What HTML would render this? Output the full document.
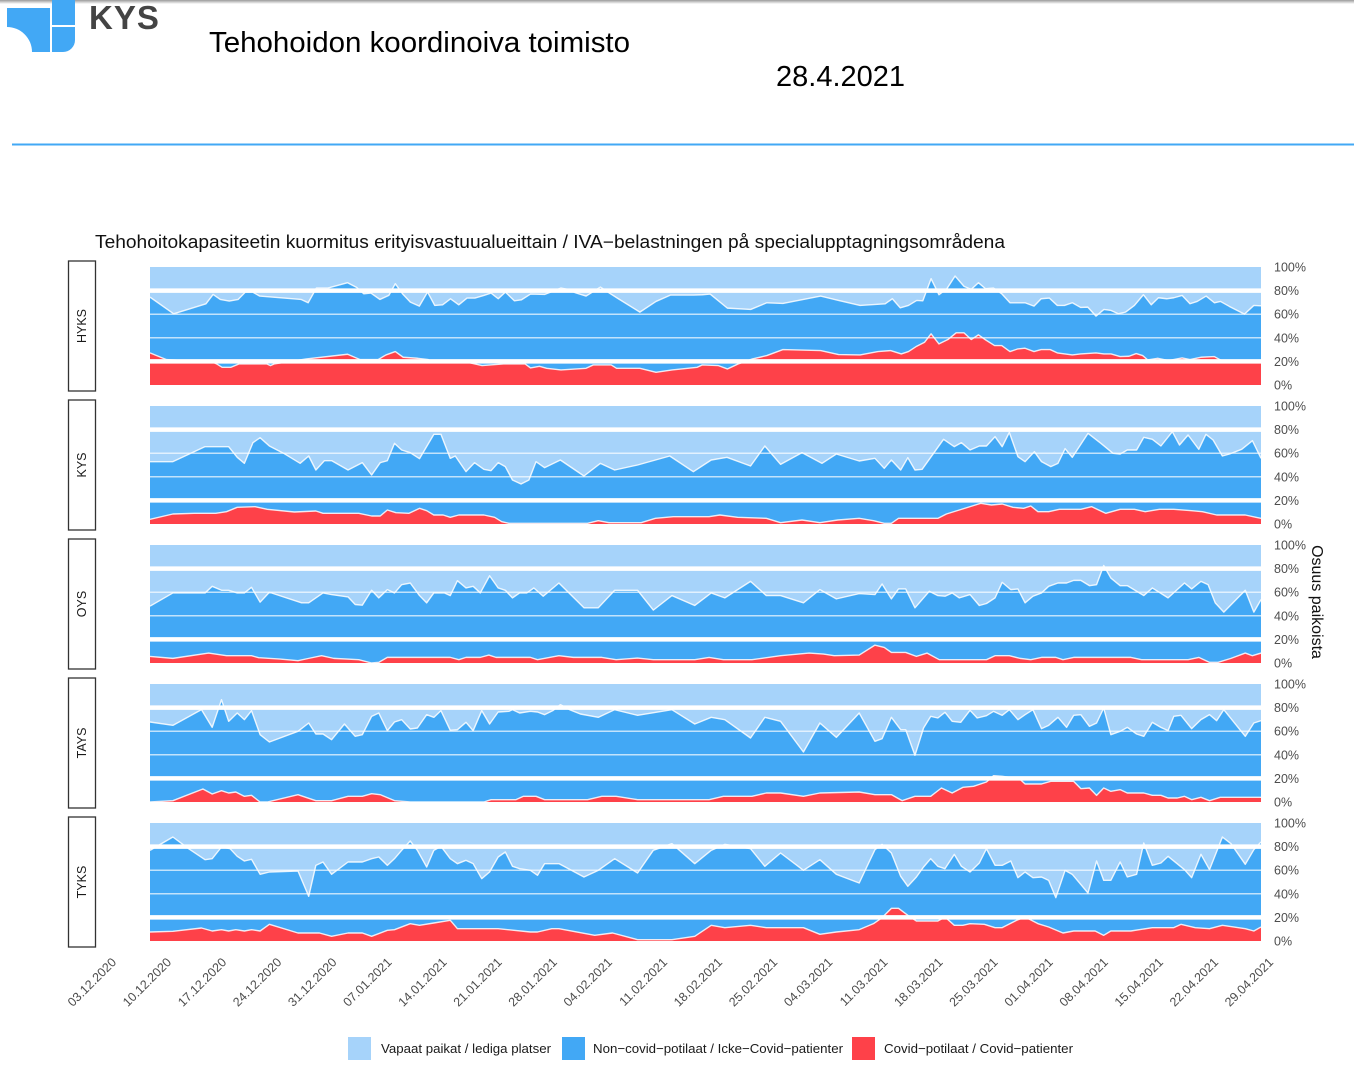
<!DOCTYPE html>
<html><head><meta charset="utf-8"><style>
html,body{margin:0;padding:0;background:#fff;overflow:hidden}
svg{display:block}
text{font-family:"Liberation Sans",Arial,sans-serif}
</style></head><body>
<svg width="1354" height="1080" viewBox="0 0 1354 1080" xmlns="http://www.w3.org/2000/svg">
<defs>
<linearGradient id="sh" x1="0" y1="0" x2="0" y2="1"><stop offset="0" stop-color="#9a9a9a"/><stop offset="1" stop-color="#ffffff"/></linearGradient>
</defs>
<rect x="0" y="0" width="1354" height="4" fill="url(#sh)"/>
<!-- logo -->
<path d="M7,8 H50 V52 H32 A25,25 0 0 0 7,27 Z" fill="#42a8f5"/>
<rect x="52" y="0" width="23" height="25" fill="#42a8f5"/>
<path d="M52,27 H75 V40 A12,12 0 0 1 63,52 H52 Z" fill="#42a8f5"/>
<text x="89" y="29" font-size="33" font-weight="bold" fill="#444" letter-spacing="1">KYS</text>
<text x="209" y="52" font-size="29" fill="#000" textLength="421" lengthAdjust="spacingAndGlyphs">Tehohoidon koordinoiva toimisto</text>
<text x="776" y="86" font-size="29" fill="#000">28.4.2021</text>
<rect x="12" y="143.5" width="1342" height="2" fill="#42a8f5"/>

<text x="95" y="248" font-size="18" fill="#111" textLength="910" lengthAdjust="spacingAndGlyphs">Tehohoitokapasiteetin kuormitus erityisvastuualueittain / IVA−belastningen på specialupptagningsområdena</text>

<!-- strip boxes -->
<g fill="#fff" stroke="#333" stroke-width="1.3">
<rect x="68.5" y="261" width="27" height="130"/>
<rect x="68.5" y="400" width="27" height="130"/>
<rect x="68.5" y="539" width="27" height="130"/>
<rect x="68.5" y="678" width="27" height="130"/>
<rect x="68.5" y="817" width="27" height="130"/>
</g>
<g font-size="12.5" fill="#1a1a1a" text-anchor="middle">
<text transform="translate(86,326) rotate(-90)">HYKS</text>
<text transform="translate(86,465) rotate(-90)">KYS</text>
<text transform="translate(86,604) rotate(-90)">OYS</text>
<text transform="translate(86,743) rotate(-90)">TAYS</text>
<text transform="translate(86,882) rotate(-90)">TYKS</text>
</g>

<!-- panel backgrounds -->
<g fill="#a6d3fa">
<rect x="150" y="267" width="1111" height="118"/>
<rect x="150" y="406" width="1111" height="118"/>
<rect x="150" y="545" width="1111" height="118"/>
<rect x="150" y="684" width="1111" height="118"/>
<rect x="150" y="823" width="1111" height="118"/>
</g>

<!-- HYKS -->
<svg x="150" y="267" width="1111" height="118" viewBox="14 15 3098 353" preserveAspectRatio="none">
<polygon fill="#42a8f5" points="14,105 80,155 170,125 190,97 210,112 235,117 260,112 280,90 300,90 320,102 435,112 455,122 478,78 510,78 565,62 590,76 610,95 630,93 655,112 680,100 698,65 718,95 740,120 765,132 788,90 808,130 830,128 852,110 875,128 898,108 920,108 945,100 965,93 985,110 1005,90 1030,116 1050,113 1075,96 1115,97 1160,78 1180,82 1200,92 1230,102 1270,75 1295,93 1320,110 1380,150 1425,118 1465,99 1530,99 1554,98 1576,96 1624,138 1689,142 1734,122 1779,124 1884,102 1934,115 1994,130 2064,125 2084,110 2106,137 2129,130 2152,115 2169,116 2192,50 2214,98 2236,80 2259,42 2284,73 2304,82 2324,62 2344,80 2366,78 2389,95 2412,122 2454,122 2479,132 2499,110 2522,108 2544,130 2564,130 2586,122 2609,136 2629,135 2652,162 2674,142 2694,145 2714,155 2734,150 2759,130 2784,98 2806,128 2826,107 2849,110 2869,107 2892,100 2914,125 2934,118 2959,102 2982,122 2999,118 3024,133 3066,156 3092,130 3112,131 3112,400 14,400"/>
<polygon fill="#fe4149" points="14,272 60,292 190,300 200,305 215,315 240,315 262,305 340,305 350,310 360,305 450,290 565,276 600,292 650,292 672,278 698,268 720,285 760,288 790,292 800,300 900,300 940,310 1000,305 1060,305 1075,317 1100,312 1120,318 1160,323 1230,318 1250,308 1300,308 1315,318 1380,318 1425,330 1470,323 1540,315 1554,308 1599,310 1624,320 1654,305 1694,290 1734,280 1779,262 1884,265 1934,277 1994,278 2044,268 2079,265 2109,275 2129,268 2152,252 2174,240 2192,215 2214,245 2239,232 2262,212 2284,212 2304,232 2324,218 2344,233 2369,250 2389,250 2412,268 2434,260 2454,258 2479,268 2499,262 2524,262 2544,272 2586,278 2609,275 2652,272 2674,275 2694,275 2719,283 2744,282 2764,274 2782,280 2796,293 2824,288 2854,295 2892,287 2914,292 2944,285 2982,283 2999,293 3024,300 3112,300 3112,400 14,400"/>
<g fill="none" stroke="#fff" stroke-opacity="0.85" stroke-width="1.4" stroke-linejoin="round">
<polyline vector-effect="non-scaling-stroke" points="14,105 80,155 170,125 190,97 210,112 235,117 260,112 280,90 300,90 320,102 435,112 455,122 478,78 510,78 565,62 590,76 610,95 630,93 655,112 680,100 698,65 718,95 740,120 765,132 788,90 808,130 830,128 852,110 875,128 898,108 920,108 945,100 965,93 985,110 1005,90 1030,116 1050,113 1075,96 1115,97 1160,78 1180,82 1200,92 1230,102 1270,75 1295,93 1320,110 1380,150 1425,118 1465,99 1530,99 1554,98 1576,96 1624,138 1689,142 1734,122 1779,124 1884,102 1934,115 1994,130 2064,125 2084,110 2106,137 2129,130 2152,115 2169,116 2192,50 2214,98 2236,80 2259,42 2284,73 2304,82 2324,62 2344,80 2366,78 2389,95 2412,122 2454,122 2479,132 2499,110 2522,108 2544,130 2564,130 2586,122 2609,136 2629,135 2652,162 2674,142 2694,145 2714,155 2734,150 2759,130 2784,98 2806,128 2826,107 2849,110 2869,107 2892,100 2914,125 2934,118 2959,102 2982,122 2999,118 3024,133 3066,156 3092,130 3112,131"/>
<polyline vector-effect="non-scaling-stroke" points="14,272 60,292 190,300 200,305 215,315 240,315 262,305 340,305 350,310 360,305 450,290 565,276 600,292 650,292 672,278 698,268 720,285 760,288 790,292 800,300 900,300 940,310 1000,305 1060,305 1075,317 1100,312 1120,318 1160,323 1230,318 1250,308 1300,308 1315,318 1380,318 1425,330 1470,323 1540,315 1554,308 1599,310 1624,320 1654,305 1694,290 1734,280 1779,262 1884,265 1934,277 1994,278 2044,268 2079,265 2109,275 2129,268 2152,252 2174,240 2192,215 2214,245 2239,232 2262,212 2284,212 2304,232 2324,218 2344,233 2369,250 2389,250 2412,268 2434,260 2454,258 2479,268 2499,262 2524,262 2544,272 2586,278 2609,275 2652,272 2674,275 2694,275 2719,283 2744,282 2764,274 2782,280 2796,293 2824,288 2854,295 2892,287 2914,292 2944,285 2982,283 2999,293 3024,300 3112,300"/>
</g>
</svg>

<!-- KYS -->
<svg x="150" y="406" width="1111" height="118" viewBox="8 18 1554 354" preserveAspectRatio="none">
<polygon fill="#42a8f5" points="8,185 40,185 85,140 118,140 130,172 140,190 152,128 162,113 175,138 195,160 218,190 230,168 240,210 252,182 262,182 285,210 305,188 318,225 330,188 340,182 350,130 360,150 372,158 385,176 405,103 415,103 428,175 435,168 450,215 462,188 475,208 485,212 495,188 505,200 515,240 527,252 538,240 548,185 560,203 582,180 615,228 638,190 658,210 690,195 735,168 768,215 793,180 815,172 848,198 868,138 890,193 920,158 948,190 968,162 1000,183 1022,175 1035,205 1045,180 1058,210 1068,173 1078,210 1088,208 1118,118 1133,140 1143,128 1155,150 1168,138 1178,138 1190,110 1200,140 1210,97 1222,170 1232,185 1245,155 1255,185 1268,200 1278,190 1288,146 1298,172 1320,100 1338,130 1355,160 1365,162 1375,150 1388,150 1398,112 1410,118 1422,138 1438,95 1448,135 1460,105 1475,148 1485,103 1495,120 1508,168 1518,162 1535,148 1550,122 1562,175 1562,400 8,400"/>
<polygon fill="#fe4149" points="8,358 40,342 70,340 100,340 115,335 130,322 155,320 172,328 210,336 240,333 250,340 300,340 318,348 330,348 340,330 352,338 370,340 385,325 395,332 405,345 418,345 428,352 440,345 475,345 490,352 500,365 510,370 620,370 635,362 650,368 695,368 715,355 740,350 790,350 805,345 830,352 870,355 890,368 920,360 945,368 970,360 1000,355 1020,362 1035,370 1045,370 1055,355 1110,355 1122,342 1140,330 1158,318 1170,310 1185,315 1200,312 1215,322 1230,325 1240,318 1250,335 1265,335 1280,328 1310,328 1325,320 1345,340 1365,328 1385,328 1400,335 1420,328 1440,328 1465,332 1480,335 1500,345 1540,345 1555,352 1562,355 1562,400 8,400"/>
<g fill="none" stroke="#fff" stroke-opacity="0.85" stroke-width="1.4" stroke-linejoin="round">
<polyline vector-effect="non-scaling-stroke" points="8,185 40,185 85,140 118,140 130,172 140,190 152,128 162,113 175,138 195,160 218,190 230,168 240,210 252,182 262,182 285,210 305,188 318,225 330,188 340,182 350,130 360,150 372,158 385,176 405,103 415,103 428,175 435,168 450,215 462,188 475,208 485,212 495,188 505,200 515,240 527,252 538,240 548,185 560,203 582,180 615,228 638,190 658,210 690,195 735,168 768,215 793,180 815,172 848,198 868,138 890,193 920,158 948,190 968,162 1000,183 1022,175 1035,205 1045,180 1058,210 1068,173 1078,210 1088,208 1118,118 1133,140 1143,128 1155,150 1168,138 1178,138 1190,110 1200,140 1210,97 1222,170 1232,185 1245,155 1255,185 1268,200 1278,190 1288,146 1298,172 1320,100 1338,130 1355,160 1365,162 1375,150 1388,150 1398,112 1410,118 1422,138 1438,95 1448,135 1460,105 1475,148 1485,103 1495,120 1508,168 1518,162 1535,148 1550,122 1562,175"/>
<polyline vector-effect="non-scaling-stroke" points="8,358 40,342 70,340 100,340 115,335 130,322 155,320 172,328 210,336 240,333 250,340 300,340 318,348 330,348 340,330 352,338 370,340 385,325 395,332 405,345 418,345 428,352 440,345 475,345 490,352 500,365 510,370 620,370 635,362 650,368 695,368 715,355 740,350 790,350 805,345 830,352 870,355 890,368 920,360 945,368 970,360 1000,355 1020,362 1035,370 1045,370 1055,355 1110,355 1122,342 1140,330 1158,318 1170,310 1185,315 1200,312 1215,322 1230,325 1240,318 1250,335 1265,335 1280,328 1310,328 1325,320 1345,340 1365,328 1385,328 1400,335 1420,328 1440,328 1465,332 1480,335 1500,345 1540,345 1555,352 1562,355"/>
</g>
</svg>

<!-- OYS -->
<svg x="150" y="545" width="1111" height="118" viewBox="8 15 1554 357" preserveAspectRatio="none">
<polygon fill="#42a8f5" points="8,200 40,160 85,160 95,140 108,152 118,152 130,160 140,160 150,143 162,188 175,158 220,190 230,190 250,160 262,165 285,172 295,195 305,197 318,152 328,175 340,150 350,160 360,135 372,130 385,168 395,190 405,160 420,160 428,168 438,123 450,145 460,140 470,160 483,108 495,145 505,152 515,175 525,160 535,160 545,145 558,170 580,130 615,205 635,205 658,152 690,152 712,212 738,168 770,198 793,160 812,175 848,125 870,168 890,168 922,190 945,150 968,178 1000,162 1022,165 1032,133 1045,178 1055,148 1065,148 1078,205 1098,155 1110,168 1120,170 1130,160 1140,175 1155,165 1168,198 1178,192 1190,175 1200,128 1212,150 1222,148 1232,190 1243,170 1255,160 1265,140 1278,130 1290,130 1300,122 1310,122 1322,138 1332,135 1342,77 1352,115 1365,138 1375,138 1398,168 1410,145 1432,175 1455,130 1465,148 1478,125 1488,135 1498,190 1510,218 1540,152 1552,218 1562,180 1562,400 8,400"/>
<polygon fill="#fe4149" points="8,352 40,358 90,342 115,350 150,350 160,356 190,360 215,365 230,358 248,350 265,358 300,362 318,372 328,370 340,355 428,355 440,362 450,355 470,355 482,348 492,355 540,355 550,362 580,350 600,355 640,355 660,362 690,357 712,362 770,362 790,355 810,362 850,362 890,350 930,342 950,345 965,350 1000,348 1022,318 1035,325 1045,340 1065,340 1080,352 1095,342 1112,362 1178,362 1190,350 1210,350 1225,358 1240,362 1255,355 1275,355 1285,362 1300,355 1380,355 1395,362 1460,362 1475,355 1490,370 1502,370 1520,358 1540,342 1550,350 1562,342 1562,400 8,400"/>
<g fill="none" stroke="#fff" stroke-opacity="0.85" stroke-width="1.4" stroke-linejoin="round">
<polyline vector-effect="non-scaling-stroke" points="8,200 40,160 85,160 95,140 108,152 118,152 130,160 140,160 150,143 162,188 175,158 220,190 230,190 250,160 262,165 285,172 295,195 305,197 318,152 328,175 340,150 350,160 360,135 372,130 385,168 395,190 405,160 420,160 428,168 438,123 450,145 460,140 470,160 483,108 495,145 505,152 515,175 525,160 535,160 545,145 558,170 580,130 615,205 635,205 658,152 690,152 712,212 738,168 770,198 793,160 812,175 848,125 870,168 890,168 922,190 945,150 968,178 1000,162 1022,165 1032,133 1045,178 1055,148 1065,148 1078,205 1098,155 1110,168 1120,170 1130,160 1140,175 1155,165 1168,198 1178,192 1190,175 1200,128 1212,150 1222,148 1232,190 1243,170 1255,160 1265,140 1278,130 1290,130 1300,122 1310,122 1322,138 1332,135 1342,77 1352,115 1365,138 1375,138 1398,168 1410,145 1432,175 1455,130 1465,148 1478,125 1488,135 1498,190 1510,218 1540,152 1552,218 1562,180"/>
<polyline vector-effect="non-scaling-stroke" points="8,352 40,358 90,342 115,350 150,350 160,356 190,360 215,365 230,358 248,350 265,358 300,362 318,372 328,370 340,355 428,355 440,362 450,355 470,355 482,348 492,355 540,355 550,362 580,350 600,355 640,355 660,362 690,357 712,362 770,362 790,355 810,362 850,362 890,350 930,342 950,345 965,350 1000,348 1022,318 1035,325 1045,340 1065,340 1080,352 1095,342 1112,362 1178,362 1190,350 1210,350 1225,358 1240,362 1255,355 1275,355 1285,362 1300,355 1380,355 1395,362 1460,362 1475,355 1490,370 1502,370 1520,358 1540,342 1550,350 1562,342"/>
</g>
</svg>

<!-- TAYS -->
<svg x="150" y="684" width="1111" height="118" viewBox="8 18 1554 354" preserveAspectRatio="none">
<polygon fill="#42a8f5" points="8,132 40,142 80,95 95,148 108,65 118,130 130,105 140,125 150,98 162,170 175,192 215,160 230,135 240,168 250,168 262,185 280,138 295,175 305,170 318,115 328,105 340,158 350,132 360,125 372,153 382,150 395,110 405,118 415,98 428,157 438,155 450,133 460,158 472,98 483,138 495,102 510,100 515,95 525,105 540,100 550,102 560,110 572,97 582,80 595,95 610,108 635,118 658,95 690,112 738,95 770,138 793,118 812,125 848,180 868,118 890,130 922,222 945,135 968,178 1000,105 1022,190 1032,182 1045,118 1058,155 1065,155 1078,232 1090,150 1100,115 1110,120 1120,103 1130,130 1142,133 1155,97 1165,120 1178,113 1188,100 1200,112 1210,95 1222,125 1232,110 1243,95 1255,152 1265,142 1278,118 1290,148 1300,112 1310,110 1322,145 1332,135 1342,90 1352,170 1365,160 1375,148 1388,168 1398,175 1410,133 1422,148 1432,158 1440,115 1450,112 1465,152 1478,125 1490,110 1500,128 1510,95 1540,175 1552,135 1562,128 1562,400 8,400"/>
<polygon fill="#fe4149" points="8,372 40,368 82,333 95,348 108,338 118,345 128,342 140,355 150,352 162,372 172,372 215,350 240,368 262,368 285,355 305,355 318,347 330,350 350,368 372,372 475,372 485,365 520,365 530,355 548,355 560,365 620,365 640,355 660,355 690,365 790,365 810,355 850,355 870,345 890,345 922,355 945,345 1000,342 1022,350 1045,350 1060,368 1078,355 1100,355 1115,330 1130,345 1145,328 1160,325 1178,312 1188,293 1200,295 1210,298 1222,298 1232,318 1255,318 1268,310 1300,310 1310,332 1322,330 1332,352 1342,330 1352,340 1365,335 1375,345 1398,345 1410,352 1422,352 1432,360 1445,360 1455,355 1465,365 1478,358 1490,368 1505,358 1562,358 1562,400 8,400"/>
<g fill="none" stroke="#fff" stroke-opacity="0.85" stroke-width="1.4" stroke-linejoin="round">
<polyline vector-effect="non-scaling-stroke" points="8,132 40,142 80,95 95,148 108,65 118,130 130,105 140,125 150,98 162,170 175,192 215,160 230,135 240,168 250,168 262,185 280,138 295,175 305,170 318,115 328,105 340,158 350,132 360,125 372,153 382,150 395,110 405,118 415,98 428,157 438,155 450,133 460,158 472,98 483,138 495,102 510,100 515,95 525,105 540,100 550,102 560,110 572,97 582,80 595,95 610,108 635,118 658,95 690,112 738,95 770,138 793,118 812,125 848,180 868,118 890,130 922,222 945,135 968,178 1000,105 1022,190 1032,182 1045,118 1058,155 1065,155 1078,232 1090,150 1100,115 1110,120 1120,103 1130,130 1142,133 1155,97 1165,120 1178,113 1188,100 1200,112 1210,95 1222,125 1232,110 1243,95 1255,152 1265,142 1278,118 1290,148 1300,112 1310,110 1322,145 1332,135 1342,90 1352,170 1365,160 1375,148 1388,168 1398,175 1410,133 1422,148 1432,158 1440,115 1450,112 1465,152 1478,125 1490,110 1500,128 1510,95 1540,175 1552,135 1562,128"/>
<polyline vector-effect="non-scaling-stroke" points="8,372 40,368 82,333 95,348 108,338 118,345 128,342 140,355 150,352 162,372 172,372 215,350 240,368 262,368 285,355 305,355 318,347 330,350 350,368 372,372 475,372 485,365 520,365 530,355 548,355 560,365 620,365 640,355 660,355 690,365 790,365 810,355 850,355 870,345 890,345 922,355 945,345 1000,342 1022,350 1045,350 1060,368 1078,355 1100,355 1115,330 1130,345 1145,328 1160,325 1178,312 1188,293 1200,295 1210,298 1222,298 1232,318 1255,318 1268,310 1300,310 1310,332 1322,330 1332,352 1342,330 1352,340 1365,335 1375,345 1398,345 1410,352 1422,352 1432,360 1445,360 1455,355 1465,365 1478,358 1490,368 1505,358 1562,358"/>
</g>
</svg>

<!-- TYKS -->
<svg x="150" y="823" width="1111" height="118" viewBox="8 18 1554 354" preserveAspectRatio="none">
<polygon fill="#42a8f5" points="8,100 40,60 62,95 85,128 95,125 108,90 120,95 130,118 140,132 150,127 162,172 175,165 215,162 230,238 240,145 250,135 262,172 285,135 305,135 318,125 328,120 340,145 350,125 360,100 372,72 382,100 395,150 405,100 415,88 428,125 438,140 450,130 460,140 472,185 483,165 495,120 505,105 515,148 525,155 540,160 550,175 560,140 580,140 615,180 635,160 658,125 690,168 712,100 738,80 770,140 793,100 812,82 848,95 868,148 890,108 922,160 945,128 968,172 1000,198 1022,98 1032,82 1045,108 1058,178 1068,208 1080,180 1090,150 1100,125 1110,148 1120,155 1133,112 1143,148 1155,165 1168,138 1178,95 1190,145 1200,145 1212,132 1222,182 1232,165 1243,182 1255,180 1265,190 1275,242 1288,160 1298,172 1320,228 1332,132 1342,190 1352,190 1365,135 1375,180 1388,172 1398,78 1410,145 1422,138 1432,118 1455,158 1465,182 1478,112 1490,158 1508,60 1520,80 1540,142 1552,98 1562,75 1562,400 8,400"/>
<polygon fill="#fe4149" points="8,345 40,343 80,333 95,342 108,338 118,342 128,338 140,342 150,338 162,342 175,322 215,348 245,348 262,358 285,348 305,348 318,358 340,340 350,338 372,320 385,325 405,318 428,310 438,335 470,335 495,335 540,345 550,345 570,335 580,335 630,355 655,348 690,368 738,368 770,358 793,325 812,332 848,325 870,332 922,332 945,352 968,345 1000,338 1020,320 1032,302 1045,274 1055,274 1068,295 1080,312 1110,312 1120,300 1133,325 1145,325 1155,320 1175,322 1190,332 1200,332 1220,310 1232,300 1250,320 1265,330 1285,348 1300,342 1330,342 1342,355 1352,342 1380,342 1410,332 1440,332 1450,322 1470,332 1490,335 1508,325 1540,335 1552,342 1562,330 1562,400 8,400"/>
<g fill="none" stroke="#fff" stroke-opacity="0.85" stroke-width="1.4" stroke-linejoin="round">
<polyline vector-effect="non-scaling-stroke" points="8,100 40,60 62,95 85,128 95,125 108,90 120,95 130,118 140,132 150,127 162,172 175,165 215,162 230,238 240,145 250,135 262,172 285,135 305,135 318,125 328,120 340,145 350,125 360,100 372,72 382,100 395,150 405,100 415,88 428,125 438,140 450,130 460,140 472,185 483,165 495,120 505,105 515,148 525,155 540,160 550,175 560,140 580,140 615,180 635,160 658,125 690,168 712,100 738,80 770,140 793,100 812,82 848,95 868,148 890,108 922,160 945,128 968,172 1000,198 1022,98 1032,82 1045,108 1058,178 1068,208 1080,180 1090,150 1100,125 1110,148 1120,155 1133,112 1143,148 1155,165 1168,138 1178,95 1190,145 1200,145 1212,132 1222,182 1232,165 1243,182 1255,180 1265,190 1275,242 1288,160 1298,172 1320,228 1332,132 1342,190 1352,190 1365,135 1375,180 1388,172 1398,78 1410,145 1422,138 1432,118 1455,158 1465,182 1478,112 1490,158 1508,60 1520,80 1540,142 1552,98 1562,75"/>
<polyline vector-effect="non-scaling-stroke" points="8,345 40,343 80,333 95,342 108,338 118,342 128,338 140,342 150,338 162,342 175,322 215,348 245,348 262,358 285,348 305,348 318,358 340,340 350,338 372,320 385,325 405,318 428,310 438,335 470,335 495,335 540,345 550,345 570,335 580,335 630,355 655,348 690,368 738,368 770,358 793,325 812,332 848,325 870,332 922,332 945,352 968,345 1000,338 1020,320 1032,302 1045,274 1055,274 1068,295 1080,312 1110,312 1120,300 1133,325 1145,325 1155,320 1175,322 1190,332 1200,332 1220,310 1232,300 1250,320 1265,330 1285,348 1300,342 1330,342 1342,355 1352,342 1380,342 1410,332 1440,332 1450,322 1470,332 1490,335 1508,325 1540,335 1552,342 1562,330"/>
</g>
</svg>

<!-- gridlines -->
<g stroke="#fff" stroke-opacity="0.9" stroke-width="1.2">
<line x1="150" x2="1261" y1="314.2" y2="314.2"/><line x1="150" x2="1261" y1="337.8" y2="337.8"/>
<line x1="150" x2="1261" y1="453.2" y2="453.2"/><line x1="150" x2="1261" y1="476.8" y2="476.8"/>
<line x1="150" x2="1261" y1="592.2" y2="592.2"/><line x1="150" x2="1261" y1="615.8" y2="615.8"/>
<line x1="150" x2="1261" y1="731.2" y2="731.2"/><line x1="150" x2="1261" y1="754.8" y2="754.8"/>
<line x1="150" x2="1261" y1="870.2" y2="870.2"/><line x1="150" x2="1261" y1="893.8" y2="893.8"/>
</g>
<g stroke="#fff" stroke-width="4.5">
<line x1="150" x2="1261" y1="290.6" y2="290.6"/><line x1="150" x2="1261" y1="361.4" y2="361.4"/>
<line x1="150" x2="1261" y1="429.6" y2="429.6"/><line x1="150" x2="1261" y1="500.4" y2="500.4"/>
<line x1="150" x2="1261" y1="568.6" y2="568.6"/><line x1="150" x2="1261" y1="639.4" y2="639.4"/>
<line x1="150" x2="1261" y1="707.6" y2="707.6"/><line x1="150" x2="1261" y1="778.4" y2="778.4"/>
<line x1="150" x2="1261" y1="846.6" y2="846.6"/><line x1="150" x2="1261" y1="917.4" y2="917.4"/>
</g>

<!-- right axis labels -->
<g font-size="12.5" fill="#4d4d4d">
<text x="1274" y="271.5">100%</text><text x="1274" y="295.1">80%</text><text x="1274" y="318.7">60%</text><text x="1274" y="342.3">40%</text><text x="1274" y="365.9">20%</text><text x="1274" y="389.5">0%</text>
<text x="1274" y="410.5">100%</text><text x="1274" y="434.1">80%</text><text x="1274" y="457.7">60%</text><text x="1274" y="481.3">40%</text><text x="1274" y="504.9">20%</text><text x="1274" y="528.5">0%</text>
<text x="1274" y="549.5">100%</text><text x="1274" y="573.1">80%</text><text x="1274" y="596.7">60%</text><text x="1274" y="620.3">40%</text><text x="1274" y="643.9">20%</text><text x="1274" y="667.5">0%</text>
<text x="1274" y="688.5">100%</text><text x="1274" y="712.1">80%</text><text x="1274" y="735.7">60%</text><text x="1274" y="759.3">40%</text><text x="1274" y="782.9">20%</text><text x="1274" y="806.5">0%</text>
<text x="1274" y="827.5">100%</text><text x="1274" y="851.1">80%</text><text x="1274" y="874.7">60%</text><text x="1274" y="898.3">40%</text><text x="1274" y="921.9">20%</text><text x="1274" y="945.5">0%</text>
</g>
<text transform="translate(1312,602) rotate(90)" font-size="16" fill="#111" text-anchor="middle">Osuus paikoista</text>

<!-- x axis labels -->
<g font-size="12.5" fill="#4d4d4d" text-anchor="end">
<text transform="translate(117,963) rotate(-45)">03.12.2020</text>
<text transform="translate(172.1,963) rotate(-45)">10.12.2020</text>
<text transform="translate(227.2,963) rotate(-45)">17.12.2020</text>
<text transform="translate(282.3,963) rotate(-45)">24.12.2020</text>
<text transform="translate(337.4,963) rotate(-45)">31.12.2020</text>
<text transform="translate(392.5,963) rotate(-45)">07.01.2021</text>
<text transform="translate(447.6,963) rotate(-45)">14.01.2021</text>
<text transform="translate(502.7,963) rotate(-45)">21.01.2021</text>
<text transform="translate(557.8,963) rotate(-45)">28.01.2021</text>
<text transform="translate(612.9,963) rotate(-45)">04.02.2021</text>
<text transform="translate(668,963) rotate(-45)">11.02.2021</text>
<text transform="translate(723.1,963) rotate(-45)">18.02.2021</text>
<text transform="translate(778.2,963) rotate(-45)">25.02.2021</text>
<text transform="translate(833.3,963) rotate(-45)">04.03.2021</text>
<text transform="translate(888.4,963) rotate(-45)">11.03.2021</text>
<text transform="translate(943.5,963) rotate(-45)">18.03.2021</text>
<text transform="translate(998.6,963) rotate(-45)">25.03.2021</text>
<text transform="translate(1053.7,963) rotate(-45)">01.04.2021</text>
<text transform="translate(1108.8,963) rotate(-45)">08.04.2021</text>
<text transform="translate(1163.9,963) rotate(-45)">15.04.2021</text>
<text transform="translate(1219,963) rotate(-45)">22.04.2021</text>
<text transform="translate(1274.1,963) rotate(-45)">29.04.2021</text>
</g>

<!-- legend -->
<rect x="348" y="1037" width="23" height="23" fill="#a6d3fa"/>
<text x="381" y="1053" font-size="13" fill="#1a1a1a" textLength="170" lengthAdjust="spacingAndGlyphs">Vapaat paikat / lediga platser</text>
<rect x="562" y="1037" width="23" height="23" fill="#42a8f5"/>
<text x="593" y="1053" font-size="13" fill="#1a1a1a" textLength="250" lengthAdjust="spacingAndGlyphs">Non−covid−potilaat / Icke−Covid−patienter</text>
<rect x="852" y="1037" width="23" height="23" fill="#fe4149"/>
<text x="884" y="1053" font-size="13" fill="#1a1a1a" textLength="189" lengthAdjust="spacingAndGlyphs">Covid−potilaat / Covid−patienter</text>
</svg>
</body></html>
